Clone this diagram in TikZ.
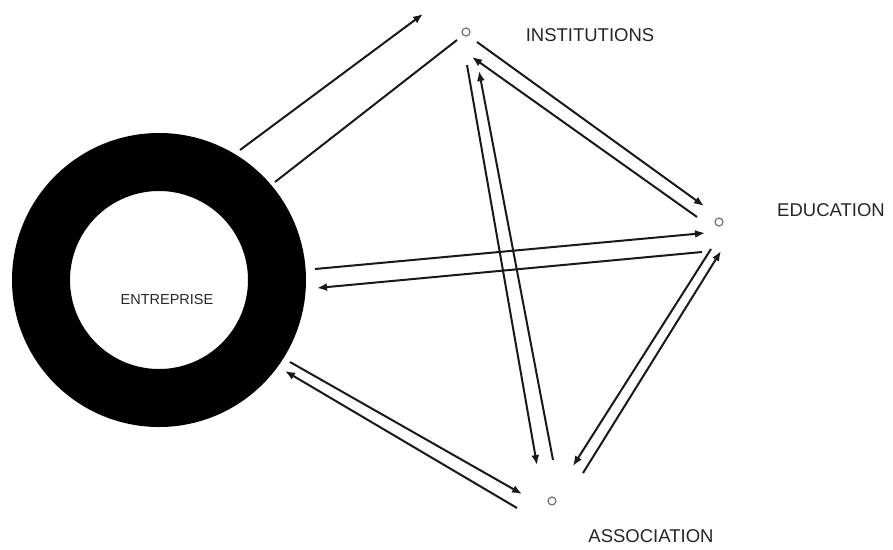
\documentclass[tikz,border=0pt]{standalone}
\usepackage{fontspec}
\setmainfont{Liberation Sans}
\usetikzlibrary{arrows.meta}
\tikzset{
  link/.style={draw=black!90, line width=2pt, -{Latex[length=10pt,width=8pt]}},
  plainlink/.style={draw=black!90, line width=2pt},
  dot/.style={circle, draw=black!55, line width=1.2pt, fill=white, inner sep=0pt, minimum size=8pt},
  lbl/.style={font=\fontsize{18.5}{20}\selectfont, text=black!85, inner sep=0pt},
  ring/.style={circle, draw=black, line width=58pt, minimum size=236pt, inner sep=0pt, outer sep=0pt}
}
\begin{document}
\begin{tikzpicture}[x=1pt, y=-1pt]
\useasboundingbox (0,0) rectangle (893,549);
% main ring
\node[ring] (ent) at (159,280) {};
\node[font=\fontsize{14.5}{16}\selectfont, text=black!85, inner sep=0pt] (entlbl) at (167,300) {ENTREPRISE};
% small nodes
\node[dot] (ins) at (466,32) {};
\node[dot] (edu) at (719,222) {};
\node[dot] (ass) at (552,501) {};
\node[lbl] (inslbl) at (590,35) {INSTITUTIONS};
\node[lbl] (edulbl) at (831,210) {EDUCATION};
\node[lbl] (asslbl) at (651,536) {ASSOCIATION};
% connector end points
\coordinate (a1s) at (240,150); \coordinate (a1e) at (423,14);
\coordinate (a2s) at (457,40);  \coordinate (a2e) at (275,182);
\coordinate (b1s) at (477,42);  \coordinate (b1e) at (704,206);
\coordinate (b2s) at (697,217); \coordinate (b2e) at (472,57);
\coordinate (c1s) at (467,65);  \coordinate (c1e) at (537,465);
\coordinate (c2s) at (553,460); \coordinate (c2e) at (479,71);
\coordinate (d1s) at (315,269); \coordinate (d1e) at (705,233);
\coordinate (d2s) at (702,252); \coordinate (d2e) at (317,288);
\coordinate (e1s) at (711,249); \coordinate (e1e) at (573,466);
\coordinate (e2s) at (583,473); \coordinate (e2e) at (721,251);
\coordinate (f1s) at (290,362); \coordinate (f1e) at (522,494);
\coordinate (f2s) at (517,508); \coordinate (f2e) at (285,371);
% connectors
\draw[link] (a1s) -- (a1e);
\draw[plainlink] (a2s) -- (a2e);
\draw[link] (b1s) -- (b1e);
\draw[link] (b2s) -- (b2e);
\draw[link] (c1s) -- (c1e);
\draw[link] (c2s) -- (c2e);
\draw[link] (d1s) -- (d1e);
\draw[link] (d2s) -- (d2e);
\draw[link] (e1s) -- (e1e);
\draw[link] (e2s) -- (e2e);
\draw[link] (f1s) -- (f1e);
\draw[link] (f2s) -- (f2e);
\end{tikzpicture}
\end{document}
